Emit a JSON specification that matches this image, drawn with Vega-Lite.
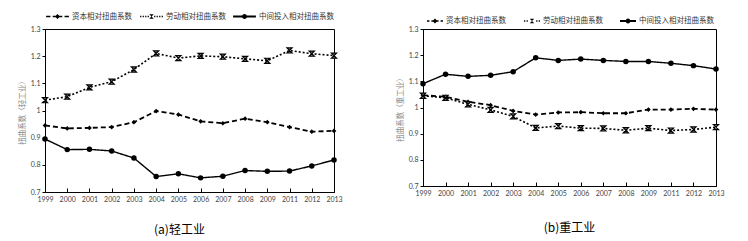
{
  "$schema": "https://vega.github.io/schema/vega-lite/v6.json",
  "background": "white",
  "padding": {"left": 17, "top": 0, "right": 5, "bottom": 5},
  "spacing": 52,
  "datasets": {
    "light": [
      {"year": "1999", "资本相对扭曲系数": 0.945, "劳动相对扭曲系数": 1.038, "中间投入相对扭曲系数": 0.895},
      {"year": "2000", "资本相对扭曲系数": 0.934, "劳动相对扭曲系数": 1.051, "中间投入相对扭曲系数": 0.856},
      {"year": "2001", "资本相对扭曲系数": 0.936, "劳动相对扭曲系数": 1.085, "中间投入相对扭曲系数": 0.857},
      {"year": "2002", "资本相对扭曲系数": 0.939, "劳动相对扭曲系数": 1.106, "中间投入相对扭曲系数": 0.851},
      {"year": "2003", "资本相对扭曲系数": 0.957, "劳动相对扭曲系数": 1.151, "中间投入相对扭曲系数": 0.825},
      {"year": "2004", "资本相对扭曲系数": 0.998, "劳动相对扭曲系数": 1.210, "中间投入相对扭曲系数": 0.757},
      {"year": "2005", "资本相对扭曲系数": 0.985, "劳动相对扭曲系数": 1.193, "中间投入相对扭曲系数": 0.767},
      {"year": "2006", "资本相对扭曲系数": 0.960, "劳动相对扭曲系数": 1.201, "中间投入相对扭曲系数": 0.752},
      {"year": "2007", "资本相对扭曲系数": 0.953, "劳动相对扭曲系数": 1.198, "中间投入相对扭曲系数": 0.758},
      {"year": "2008", "资本相对扭曲系数": 0.970, "劳动相对扭曲系数": 1.190, "中间投入相对扭曲系数": 0.779},
      {"year": "2009", "资本相对扭曲系数": 0.957, "劳动相对扭曲系数": 1.183, "中间投入相对扭曲系数": 0.776},
      {"year": "2011", "资本相对扭曲系数": 0.939, "劳动相对扭曲系数": 1.221, "中间投入相对扭曲系数": 0.777},
      {"year": "2012", "资本相对扭曲系数": 0.922, "劳动相对扭曲系数": 1.209, "中间投入相对扭曲系数": 0.796},
      {"year": "2013", "资本相对扭曲系数": 0.925, "劳动相对扭曲系数": 1.202, "中间投入相对扭曲系数": 0.818}
    ],
    "heavy": [
      {"year": "1999", "资本相对扭曲系数": 1.047, "劳动相对扭曲系数": 1.045, "中间投入相对扭曲系数": 1.091},
      {"year": "2000", "资本相对扭曲系数": 1.041, "劳动相对扭曲系数": 1.037, "中间投入相对扭曲系数": 1.127},
      {"year": "2001", "资本相对扭曲系数": 1.022, "劳动相对扭曲系数": 1.012, "中间投入相对扭曲系数": 1.119},
      {"year": "2002", "资本相对扭曲系数": 1.009, "劳动相对扭曲系数": 0.991, "中间投入相对扭曲系数": 1.123},
      {"year": "2003", "资本相对扭曲系数": 0.987, "劳动相对扭曲系数": 0.966, "中间投入相对扭曲系数": 1.137},
      {"year": "2004", "资本相对扭曲系数": 0.973, "劳动相对扭曲系数": 0.922, "中间投入相对扭曲系数": 1.190},
      {"year": "2005", "资本相对扭曲系数": 0.981, "劳动相对扭曲系数": 0.929, "中间投入相对扭曲系数": 1.180},
      {"year": "2006", "资本相对扭曲系数": 0.982, "劳动相对扭曲系数": 0.921, "中间投入相对扭曲系数": 1.185},
      {"year": "2007", "资本相对扭曲系数": 0.978, "劳动相对扭曲系数": 0.920, "中间投入相对扭曲系数": 1.180},
      {"year": "2008", "资本相对扭曲系数": 0.978, "劳动相对扭曲系数": 0.913, "中间投入相对扭曲系数": 1.176},
      {"year": "2009", "资本相对扭曲系数": 0.992, "劳动相对扭曲系数": 0.921, "中间投入相对扭曲系数": 1.176},
      {"year": "2011", "资本相对扭曲系数": 0.992, "劳动相对扭曲系数": 0.912, "中间投入相对扭曲系数": 1.169},
      {"year": "2012", "资本相对扭曲系数": 0.995, "劳动相对扭曲系数": 0.916, "中间投入相对扭曲系数": 1.160},
      {"year": "2013", "资本相对扭曲系数": 0.992, "劳动相对扭曲系数": 0.925, "中间投入相对扭曲系数": 1.147}
    ]
  },
  "resolve": {
    "scale": {"strokeDash": "independent", "shape": "independent", "strokeWidth": "independent"},
    "legend": {"strokeDash": "independent", "shape": "independent"}
  },
  "hconcat": [
    {
      "data": {"name": "light"},
      "transform": [{"fold": ["资本相对扭曲系数", "劳动相对扭曲系数", "中间投入相对扭曲系数"], "as": ["series", "value"]}],
      "width": 289,
      "height": 163,
      "title": {"text": "(a)轻工业", "orient": "bottom", "offset": 23, "dx": -10},
      "encoding": {
        "x": {"field": "year", "type": "ordinal", "scale": {"type": "point", "padding": 0}, "axis": {"title": null}},
        "y": {"field": "value", "type": "quantitative", "scale": {"domain": [0.7, 1.3], "nice": false, "zero": false}, "axis": {"title": "扭曲系数（轻工业）", "values": [0.7, 0.8, 0.9, 1.0, 1.1, 1.2, 1.3]}}
      },
      "layer": [
        {
          "mark": {"type": "point", "filled": true, "opacity": 0, "color": "black"},
          "encoding": {
            "shape": {"field": "series", "type": "nominal", "title": null,
              "scale": {"domain": ["资本相对扭曲系数", "劳动相对扭曲系数", "中间投入相对扭曲系数"],
                "range": [
                  "M-1,-0.07H-0.62V0.07H-1Z M-0.42,-0.07H-0.08V0.07H-0.42Z M0.08,-0.07H0.42V0.07H0.08Z M0.62,-0.07H1V0.07H0.62Z M0,-0.22L0.22,0L0,0.22L-0.22,0Z",
                  "M-1,-0.06H-0.89V0.06H-1Z M-0.78,-0.06H-0.67V0.06H-0.78Z M-0.56,-0.06H-0.45V0.06H-0.56Z M-0.34,-0.06H-0.23V0.06H-0.34Z M0.23,-0.06H0.34V0.06H0.23Z M0.45,-0.06H0.56V0.06H0.45Z M0.67,-0.06H0.78V0.06H0.67Z M0.89,-0.06H1V0.06H0.89Z M-0.2,-0.2L0.2,-0.2L-0.2,0.2L0.2,0.2Z",
                  "M-1,-0.08H1V0.08H-1Z M0.22,0A0.22,0.22 0 1 1 -0.22,0A0.22,0.22 0 1 1 0.22,0Z"
                ]},
              "legend": {"orient": "top", "direction": "horizontal", "gridAlign": "none", "symbolSize": 520, "symbolStrokeWidth": 0, "columnPadding": 4, "offset": 5.6, "padding": 0}},
            "strokeDash": {"field": "series", "type": "nominal", "title": null,
              "scale": {"domain": ["资本相对扭曲系数", "劳动相对扭曲系数", "中间投入相对扭曲系数"], "range": [[5, 3], [2, 2], [1, 0]]},
              "legend": {"orient": "top", "direction": "horizontal", "gridAlign": "none", "symbolSize": 520, "symbolStrokeWidth": 0, "columnPadding": 4, "offset": 5.6, "padding": 0}}
          }
        },
        {
          "mark": {"type": "line", "color": "black"},
          "encoding": {
            "strokeDash": {"field": "series", "type": "nominal", "title": null},
            "strokeWidth": {"field": "series", "type": "nominal", "legend": null,
              "scale": {"domain": ["资本相对扭曲系数", "劳动相对扭曲系数", "中间投入相对扭曲系数"], "range": [1.8, 1.4, 2]}}
          }
        },
        {
          "transform": [{"filter": "datum.series === '资本相对扭曲系数'"}],
          "mark": {"type": "point", "shape": "diamond", "filled": true, "color": "black", "size": 22, "opacity": 1}
        },
        {
          "transform": [{"filter": "datum.series === '劳动相对扭曲系数'"}],
          "mark": {"type": "point", "shape": "M-1,-1L1,-1L-1,1L1,1Z", "filled": false, "stroke": "black", "fill": "#999", "strokeWidth": 1.2, "size": 26, "opacity": 1}
        },
        {
          "transform": [{"filter": "datum.series === '中间投入相对扭曲系数'"}],
          "mark": {"type": "point", "shape": "circle", "filled": true, "color": "black", "size": 30, "opacity": 1}
        }
      ]
    },
    {
      "data": {"name": "heavy"},
      "transform": [{"fold": ["资本相对扭曲系数", "劳动相对扭曲系数", "中间投入相对扭曲系数"], "as": ["series", "value"]}],
      "width": 293,
      "height": 157,
      "title": {"text": "(b)重工业", "orient": "bottom", "offset": 27, "dx": 0},
      "encoding": {
        "x": {"field": "year", "type": "ordinal", "scale": {"type": "point", "padding": 0}, "axis": {"title": null}},
        "y": {"field": "value", "type": "quantitative", "scale": {"domain": [0.7, 1.3], "nice": false, "zero": false}, "axis": {"title": "扭曲系数（重工业）", "values": [0.7, 0.8, 0.9, 1.0, 1.1, 1.2, 1.3]}}
      },
      "layer": [
        {
          "mark": {"type": "point", "filled": true, "opacity": 0, "color": "black"},
          "encoding": {
            "shape": {"field": "series", "type": "nominal", "title": null,
              "scale": {"domain": ["资本相对扭曲系数", "劳动相对扭曲系数", "中间投入相对扭曲系数"],
                "range": [
                  "M-1,-0.1H-0.7V0.1H-1Z M-0.45,-0.1H-0.15V0.1H-0.45Z M0.15,-0.1H0.45V0.1H0.15Z M0.7,-0.1H1V0.1H0.7Z M0,-0.3L0.3,0L0,0.3L-0.3,0Z",
                  "M-1,-0.08H-0.84V0.08H-1Z M-0.68,-0.08H-0.52V0.08H-0.68Z M0.52,-0.08H0.68V0.08H0.52Z M0.84,-0.08H1V0.08H0.84Z M-0.28,-0.28L0.28,-0.28L-0.28,0.28L0.28,0.28Z",
                  "M-1,-0.11H1V0.11H-1Z M0.3,0A0.3,0.3 0 1 1 -0.3,0A0.3,0.3 0 1 1 0.3,0Z"
                ]},
              "legend": {"orient": "top", "direction": "horizontal", "gridAlign": "none", "symbolSize": 256, "symbolStrokeWidth": 0, "columnPadding": 14, "offset": -9, "padding": 11}},
            "strokeDash": {"field": "series", "type": "nominal", "title": null,
              "scale": {"domain": ["资本相对扭曲系数", "劳动相对扭曲系数", "中间投入相对扭曲系数"], "range": [[5, 3], [2, 2], [1, 0]]},
              "legend": {"orient": "top", "direction": "horizontal", "gridAlign": "none", "symbolSize": 256, "symbolStrokeWidth": 0, "columnPadding": 14, "offset": -9, "padding": 11}}
          }
        },
        {
          "mark": {"type": "line", "color": "black"},
          "encoding": {
            "strokeDash": {"field": "series", "type": "nominal", "title": null},
            "strokeWidth": {"field": "series", "type": "nominal", "legend": null,
              "scale": {"domain": ["资本相对扭曲系数", "劳动相对扭曲系数", "中间投入相对扭曲系数"], "range": [1.8, 1.4, 2]}}
          }
        },
        {
          "transform": [{"filter": "datum.series === '资本相对扭曲系数'"}],
          "mark": {"type": "point", "shape": "diamond", "filled": true, "color": "black", "size": 22, "opacity": 1}
        },
        {
          "transform": [{"filter": "datum.series === '劳动相对扭曲系数'"}],
          "mark": {"type": "point", "shape": "M-1,-1L1,-1L-1,1L1,1Z", "filled": false, "stroke": "black", "fill": "#999", "strokeWidth": 1.2, "size": 26, "opacity": 1}
        },
        {
          "transform": [{"filter": "datum.series === '中间投入相对扭曲系数'"}],
          "mark": {"type": "point", "shape": "circle", "filled": true, "color": "black", "size": 30, "opacity": 1}
        }
      ]
    }
  ],
  "config": {
    "view": {"stroke": "black", "strokeWidth": 1},
    "axis": {
      "grid": false,
      "domainColor": "black",
      "domainWidth": 1,
      "tickColor": "black",
      "labelFont": "Lato",
      "labelFontSize": 7,
      "labelColor": "#444",
      "titleFont": "Noto Sans CJK SC",
      "titleFontSize": 7.5,
      "titleFontWeight": "normal",
      "titleColor": "#888"
    },
    "axisX": {"tickSize": -4, "labelPadding": 7, "labelAngle": 0},
    "axisY": {"tickSize": 3, "labelPadding": 2, "titlePadding": 4, "labelOverlap": false, "format": ".1~f"},
    "legend": {
      "labelFont": "Noto Sans CJK SC",
      "labelFontSize": 7.5,
      "labelColor": "#333",
      "labelOffset": 2,
      "symbolOpacity": 1,
      "symbolFillColor": "black",
      "layout": {"top": {"anchor": "middle"}}
    },
    "title": {"font": "Noto Sans CJK SC", "fontSize": 12, "fontWeight": "normal", "color": "black", "anchor": "middle"}
  }
}
